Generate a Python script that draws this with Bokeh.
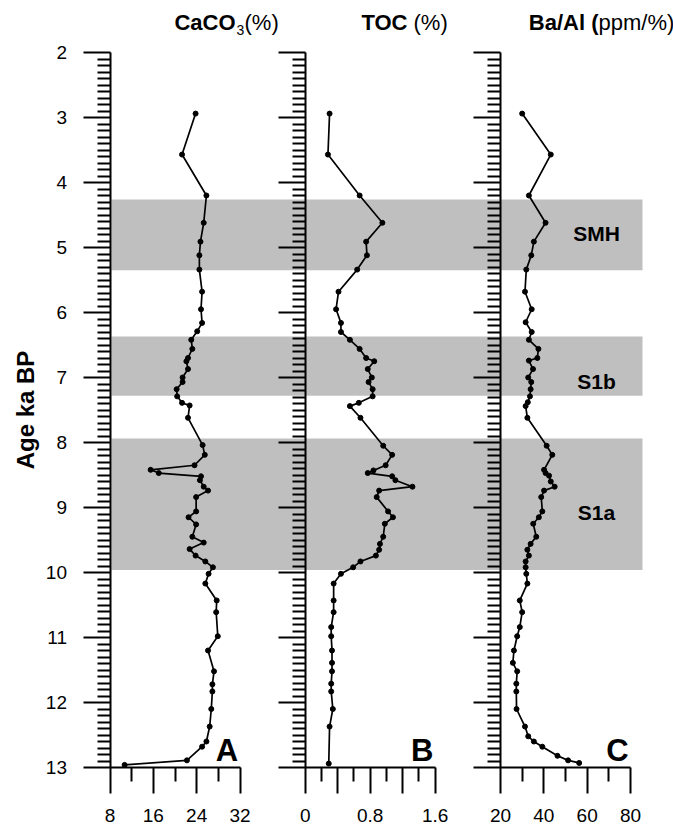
from bokeh.plotting import figure
from bokeh.models import Range1d, LinearAxis, FixedTicker
from bokeh.embed import file_html
from bokeh.resources import INLINE
from bokeh.core.properties import value

# ---------------- data ----------------
caco3_age = [2.94, 3.57, 4.20, 4.62, 4.91, 5.12, 5.34, 5.68, 5.95, 6.16, 6.29, 6.42, 6.56, 6.70,
             6.75, 6.87, 7.00, 7.07, 7.18, 7.29, 7.39, 7.43, 7.62, 8.04, 8.19, 8.35, 8.42, 8.47,
             8.52, 8.58, 8.68, 8.74, 8.84, 9.06, 9.15, 9.26, 9.45, 9.54, 9.64, 9.74, 9.83, 9.92,
             10.02, 10.17, 10.43, 10.61, 10.98, 11.20, 11.52, 11.72, 11.83, 12.10, 12.37, 12.60,
             12.68, 12.89, 12.96]
caco3 = [23.8, 21.3, 25.8, 25.3, 24.7, 24.5, 24.5, 25.0, 24.8, 25.0, 24.1, 23.0, 23.2, 22.4,
         22.1, 22.4, 21.4, 21.4, 20.3, 20.4, 21.3, 22.7, 22.4, 25.1, 25.5, 23.6, 15.5, 17.0,
         24.8, 24.6, 25.3, 26.1, 23.9, 23.9, 22.5, 23.9, 23.2, 25.3, 22.7, 23.8, 25.6, 27.0,
         26.2, 25.6, 27.7, 27.6, 27.9, 26.1, 27.2, 26.9, 26.9, 26.7, 26.4, 25.8,
         25.0, 22.2, 10.7]

toc_age = [2.94, 3.57, 4.20, 4.62, 4.91, 5.12, 5.34, 5.68, 5.95, 6.16, 6.30, 6.42, 6.56, 6.70,
           6.75, 6.87, 7.00, 7.07, 7.18, 7.29, 7.39, 7.44, 7.62, 8.05, 8.19, 8.35, 8.43, 8.47,
           8.52, 8.58, 8.68, 8.74, 8.84, 9.06, 9.15, 9.25, 9.45, 9.56, 9.65, 9.74, 9.83, 9.92,
           10.02, 10.17, 10.43, 10.61, 10.84, 10.98, 11.20, 11.39, 11.52, 11.71, 11.83, 12.10,
           12.37, 12.94]
toc = [0.30, 0.28, 0.67, 0.95, 0.75, 0.76, 0.64, 0.41, 0.38, 0.44, 0.44, 0.55, 0.67, 0.75,
       0.85, 0.77, 0.82, 0.78, 0.83, 0.83, 0.66, 0.55, 0.68, 0.96, 1.07, 0.99, 0.84, 0.77,
       1.07, 1.11, 1.32, 0.91, 0.88, 1.02, 1.08, 0.98, 0.96, 0.92, 0.91, 0.87, 0.68, 0.59,
       0.44, 0.35, 0.35, 0.35, 0.32, 0.32, 0.33, 0.33, 0.33, 0.32, 0.32, 0.34,
       0.30, 0.29]

baal_age = [2.94, 3.57, 4.20, 4.62, 4.91, 5.12, 5.34, 5.68, 5.95, 6.15, 6.30, 6.42, 6.56, 6.70,
            6.74, 6.87, 7.00, 7.07, 7.18, 7.29, 7.38, 7.44, 7.62, 8.05, 8.19, 8.42, 8.47, 8.51,
            8.60, 8.68, 8.74, 8.84, 9.06, 9.15, 9.25, 9.45, 9.56, 9.65, 9.74, 9.83, 9.92, 10.02,
            10.17, 10.43, 10.61, 10.84, 10.98, 11.20, 11.39, 11.52, 11.71, 11.83, 12.10, 12.37,
            12.52, 12.60, 12.68, 12.82, 12.89, 12.93]
baal = [30.0, 43.2, 33.1, 40.8, 35.4, 34.2, 31.9, 31.3, 34.4, 31.6, 34.4, 33.1, 37.5, 37.0,
        33.1, 35.0, 32.8, 34.2, 33.9, 33.6, 32.6, 31.6, 32.4, 41.3, 43.9, 40.1, 40.8, 42.4,
        43.2, 45.0, 40.1, 38.8, 39.3, 37.7, 35.1, 36.5, 33.9, 32.4, 33.1, 31.6, 31.6, 31.9,
        32.4, 28.9, 30.0, 28.9, 27.7, 26.2, 25.7, 27.7, 27.3, 27.3, 27.4, 31.3,
        32.8, 35.4, 39.3, 46.3, 51.2, 56.3]

band_top = [4.26, 6.37, 7.94]
band_bottom = [5.35, 7.28, 9.96]
band_names = ["SMH", "S1b", "S1a"]
band_label_age = [4.78, 7.06, 9.08]

age_ticks = [2, 3, 4, 5, 6, 7, 8, 9, 10, 11, 12, 13]

caco3_ticks = [8, 16, 24, 32]
caco3_minor = [12, 20, 28]
toc_ticks = [0, 0.4, 0.8, 1.2, 1.6]
toc_minor = [0.2, 0.6, 1.0, 1.4]
toc_tick_labels = {0: "0", 0.4: "", 0.8: "0.8", 1.2: "", 1.6: "1.6"}
baal_ticks = [20, 40, 60, 80]
baal_minor = [30, 50, 70]

panel_letters = ["A", "B", "C"]

# ---------------- layout ----------------
W, H = 673, 829
AGE0, AGE1 = 2, 13
AGE0_PX, PX_PER_AGE = 52.0, 65.0
PANEL_PX = [109.5, 304.7, 500.0]
PANEL_W = 130.0
BAND_RIGHT_PX = 642.0
FONT = value("Liberation Sans")

y_range = Range1d(start=AGE0 + (H - AGE0_PX) / PX_PER_AGE, end=AGE0 - AGE0_PX / PX_PER_AGE)

panels = [
    dict(name="A", lo=8, hi=32, ticks=caco3_ticks, minor=caco3_minor, labels=None,
         age=caco3_age, val=caco3),
    dict(name="B", lo=0, hi=1.6, ticks=toc_ticks, minor=toc_minor, labels=toc_tick_labels,
         age=toc_age, val=toc),
    dict(name="C", lo=20, hi=80, ticks=baal_ticks, minor=baal_minor, labels=None,
         age=baal_age, val=baal),
]
for pn, px in zip(panels, PANEL_PX):
    k = (pn["hi"] - pn["lo"]) / PANEL_W
    pn["range"] = Range1d(start=pn["lo"] - px * k, end=pn["lo"] + (W - px) * k)
    pn["k"] = k
    pn["px"] = px

p = figure(width=W, height=H, x_range=panels[0]["range"], y_range=y_range,
           output_backend="svg", toolbar_location=None,
           x_axis_location=None, y_axis_location=None,
           min_border=0, min_border_left=0, min_border_right=0,
           min_border_top=0, min_border_bottom=0,
           outline_line_color=None, background_fill_color="white",
           border_fill_color="white")
p.grid.visible = False
p.extra_x_ranges = {"B": panels[1]["range"], "C": panels[2]["range"]}
for pn in panels:
    pn["rn"] = "default" if pn["name"] == "A" else pn["name"]

# ---------------- bands ----------------
A = panels[0]
band_right = A["lo"] + (BAND_RIGHT_PX - A["px"]) * A["k"]
band_left = A["lo"] + 1.5 * A["k"]
p.quad(left=[band_left] * len(band_top), right=[band_right] * len(band_top),
       top=band_top, bottom=band_bottom, fill_color="#bfbfbf", line_color=None)

C = panels[2]
p.text(x=[C["lo"] + 96 * C["k"]] * 3, y=band_label_age, text=band_names,
       x_range_name="C", text_font=FONT, text_font_style="bold", text_font_size="21px",
       text_align="center", text_baseline="middle", text_color="black")

# ---------------- axes & data ----------------
age_minor = [a / 10 for a in range(AGE0 * 10, AGE1 * 10) if a % 10 != 0]

for i, pn in enumerate(panels):
    yax = LinearAxis(x_range_name=pn["rn"], fixed_location=pn["lo"], bounds=(AGE0, AGE1),
                     ticker=FixedTicker(ticks=age_ticks, minor_ticks=age_minor))
    yax.axis_line_width = 2
    yax.major_tick_line_width = 2
    yax.minor_tick_line_width = 2
    yax.major_tick_out = 27
    yax.major_tick_in = 0
    yax.minor_tick_out = 13
    yax.minor_tick_in = 0
    yax.major_label_text_font = "Liberation Sans"
    yax.major_label_text_font_size = "19px"
    yax.major_label_text_color = "black"
    yax.major_label_standoff = 16
    if i == 0:
        yax.axis_label = "Age ka BP"
        yax.axis_label_text_font = "Liberation Sans"
        yax.axis_label_text_font_style = "bold"
        yax.axis_label_text_font_size = "24px"
        yax.axis_label_text_color = "black"
        yax.axis_label_standoff = 4
    else:
        yax.major_label_overrides = {t: "" for t in age_ticks}
    p.add_layout(yax, "left")

    xax = LinearAxis(x_range_name=pn["rn"], fixed_location=AGE1, bounds=(pn["lo"], pn["hi"]),
                     ticker=FixedTicker(ticks=pn["ticks"], minor_ticks=pn["minor"]))
    xax.axis_line_width = 2
    xax.major_tick_line_width = 2
    xax.minor_tick_line_width = 2
    xax.major_tick_out = 26
    xax.major_tick_in = 0
    xax.minor_tick_out = 14
    xax.minor_tick_in = 0
    xax.major_label_text_font = "Liberation Sans"
    xax.major_label_text_font_size = "19px"
    xax.major_label_text_color = "black"
    xax.major_label_standoff = 15
    if pn["labels"] is not None:
        xax.major_label_overrides = pn["labels"]
    p.add_layout(xax, "below")

    p.line(x=pn["val"], y=pn["age"], x_range_name=pn["rn"], line_color="black", line_width=1.7)
    p.scatter(x=pn["val"], y=pn["age"], x_range_name=pn["rn"], size=5,
              fill_color="black", line_color="black")

    # panel letter
    p.text(x=[pn["lo"] + 0.9 * (pn["hi"] - pn["lo"])], y=[12.74], text=[panel_letters[i]],
           x_range_name=pn["rn"], text_font=FONT, text_font_style="bold",
           text_font_size="31px", text_align="center", text_baseline="middle",
           text_color="black")

# ---------------- titles ----------------
TITLE_AGE = AGE0 - 30 / PX_PER_AGE
B = panels[1]
jA = A["lo"] + (235 - A["px"]) * A["k"]
jB = B["lo"] + (407 - B["px"]) * B["k"]
jC = C["lo"] + (598 - C["px"]) * C["k"]

common = dict(text_font=FONT, text_baseline="middle", text_color="black", y=[TITLE_AGE])
p.text(x=[jA], text=["CaCO"], text_font_style="bold", text_font_size="22px",
       text_align="right", **common)
p.text(x=[jA], text=["3"], text_font_style="normal", text_font_size="14px",
       text_align="left", x_offset=1, y_offset=7, **common)
p.text(x=[jA], text=["(%)"], text_font_style="normal", text_font_size="22px",
       text_align="left", x_offset=9, **common)

p.text(x=[jB], text=["TOC"], x_range_name="B", text_font_style="bold", text_font_size="22px",
       text_align="right", **common)
p.text(x=[jB], text=["(%)"], x_range_name="B", text_font_style="normal",
       text_font_size="22px", text_align="left", x_offset=6, **common)

p.text(x=[jC], text=["Ba/Al ("], x_range_name="C", text_font_style="bold",
       text_font_size="22px", text_align="right", **common)
p.text(x=[jC], text=["ppm/%)"], x_range_name="C", text_font_style="normal",
       text_font_size="22px", text_align="left", **common)

open("out.html", "w").write(file_html(p, INLINE))
